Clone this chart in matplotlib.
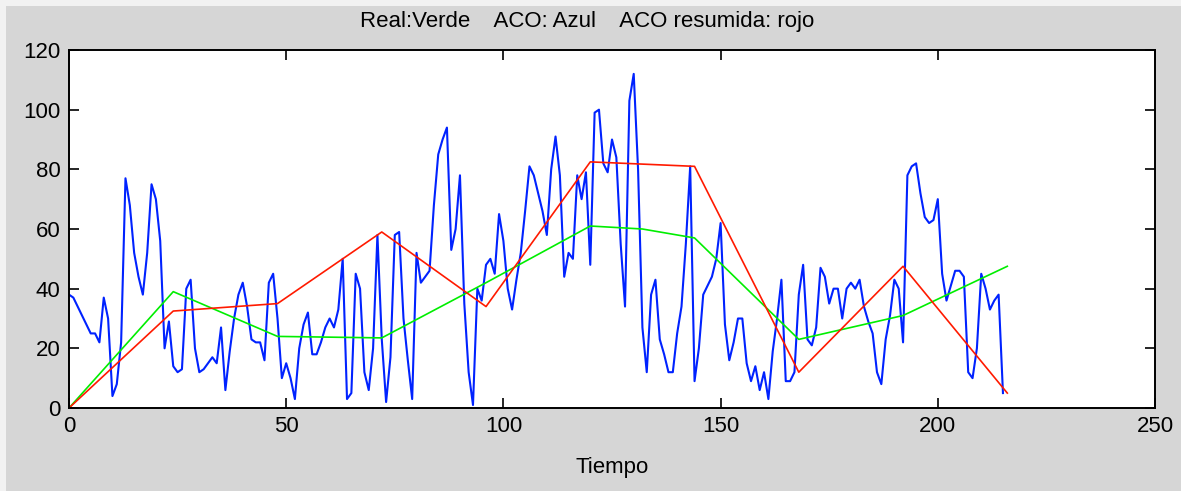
import matplotlib
matplotlib.use("Agg")
import matplotlib.pyplot as plt
from matplotlib.patches import Rectangle
import numpy as np

# ACO (blue) one value per time step
aco = [38, 37, 34, 31, 28, 25, 25, 22, 37, 30, 4, 8, 22, 77, 68, 52, 44, 38, 52, 75,
       70, 56, 20, 29, 14, 12, 13, 40, 43, 20, 12, 13, 15, 17, 15, 27, 6, 19, 30, 38,
       42, 34, 23, 22, 22, 16, 42, 45, 30, 10, 15, 10, 3, 20, 28, 32, 18, 18, 22, 27,
       30, 27, 33, 50, 3, 5, 45, 40, 12, 6, 20, 58, 23, 2, 17, 58, 59, 30, 16, 3,
       52, 42, 44, 46, 68, 85, 90, 94, 53, 60, 78, 35, 12, 1, 40, 36, 48, 50, 45, 65,
       56, 40, 33, 43, 52, 66, 81, 78, 72, 66, 58, 80, 91, 78, 44, 52, 50, 78, 70, 79,
       48, 99, 100, 82, 79, 90, 84, 55, 34, 103, 112, 80, 27, 12, 38, 43, 23, 18, 12, 12,
       25, 34, 55, 81, 9, 20, 38, 41, 44, 50, 62, 28, 16, 22, 30, 30, 15, 9, 14, 6,
       12, 3, 19, 30, 43, 9, 9, 12, 38, 48, 23, 21, 27, 47, 44, 35, 40, 40, 30, 40,
       42, 40, 43, 34, 29, 25, 12, 8, 23, 31, 43, 40, 22, 78, 81, 82, 72, 64, 62, 63,
       70, 45, 36, 41, 46, 46, 44, 12, 10, 20, 45, 40, 33, 36, 38, 5]

# Real (green) and ACO resumida (red) knot values
knot_t = [0, 24, 48, 72, 96, 120, 132, 144, 168, 192, 216]
real_vals = [0, 39, 24, 23.5, 42, 61, 60, 57, 23, 31, 47.5]
red_t = [0, 24, 48, 72, 96, 120, 144, 168, 192, 216]
red_vals = [0, 32.5, 35, 59, 34, 82.5, 81, 12, 47.5, 5]

xticks = [0, 50, 100, 150, 200, 250]
yticks = [0, 20, 40, 60, 80, 100, 120]

font = ['Liberation Sans Narrow', 'Liberation Sans', 'DejaVu Sans']
plt.rcParams['font.family'] = font

W, H = 1181, 491
fig = plt.figure(figsize=(W / 100, H / 100), dpi=100)
fig.patch.set_facecolor('#f2f2f2')
fig.patches.append(Rectangle((6 / W, 0), 1, 1 - 6 / H, transform=fig.transFigure,
                             facecolor='#d6d6d6', edgecolor='none', zorder=-10))
ax = fig.add_axes([69 / W, (H - 408) / H, (1155 - 69) / W, (408 - 50) / H])
ax.set_facecolor('white')

ax.plot(np.arange(len(aco)), aco, color='#0022ff', lw=1.5)
ax.plot(knot_t, real_vals, color='#00ee00', lw=1.2)
ax.plot(red_t, red_vals, color='#ff1a00', lw=1.2)

ax.set_xlim(0, 250)
ax.set_ylim(0, 120)
ax.set_xticks(xticks)
ax.set_yticks(yticks)
ax.tick_params(direction='in', length=7, width=1.2, top=True, right=True,
               labelsize=16, pad=6, colors='black')
for s in ax.spines.values():
    s.set_linewidth(1.4)
ax.set_xlabel('Tiempo', fontsize=16, labelpad=14)
fig.text(587 / W, 1 - 22 / H, 'Real:Verde    ACO: Azul    ACO resumida: rojo',
         ha='center', va='center', fontsize=16)

fig.savefig('out.png', dpi=100, facecolor=fig.get_facecolor())
